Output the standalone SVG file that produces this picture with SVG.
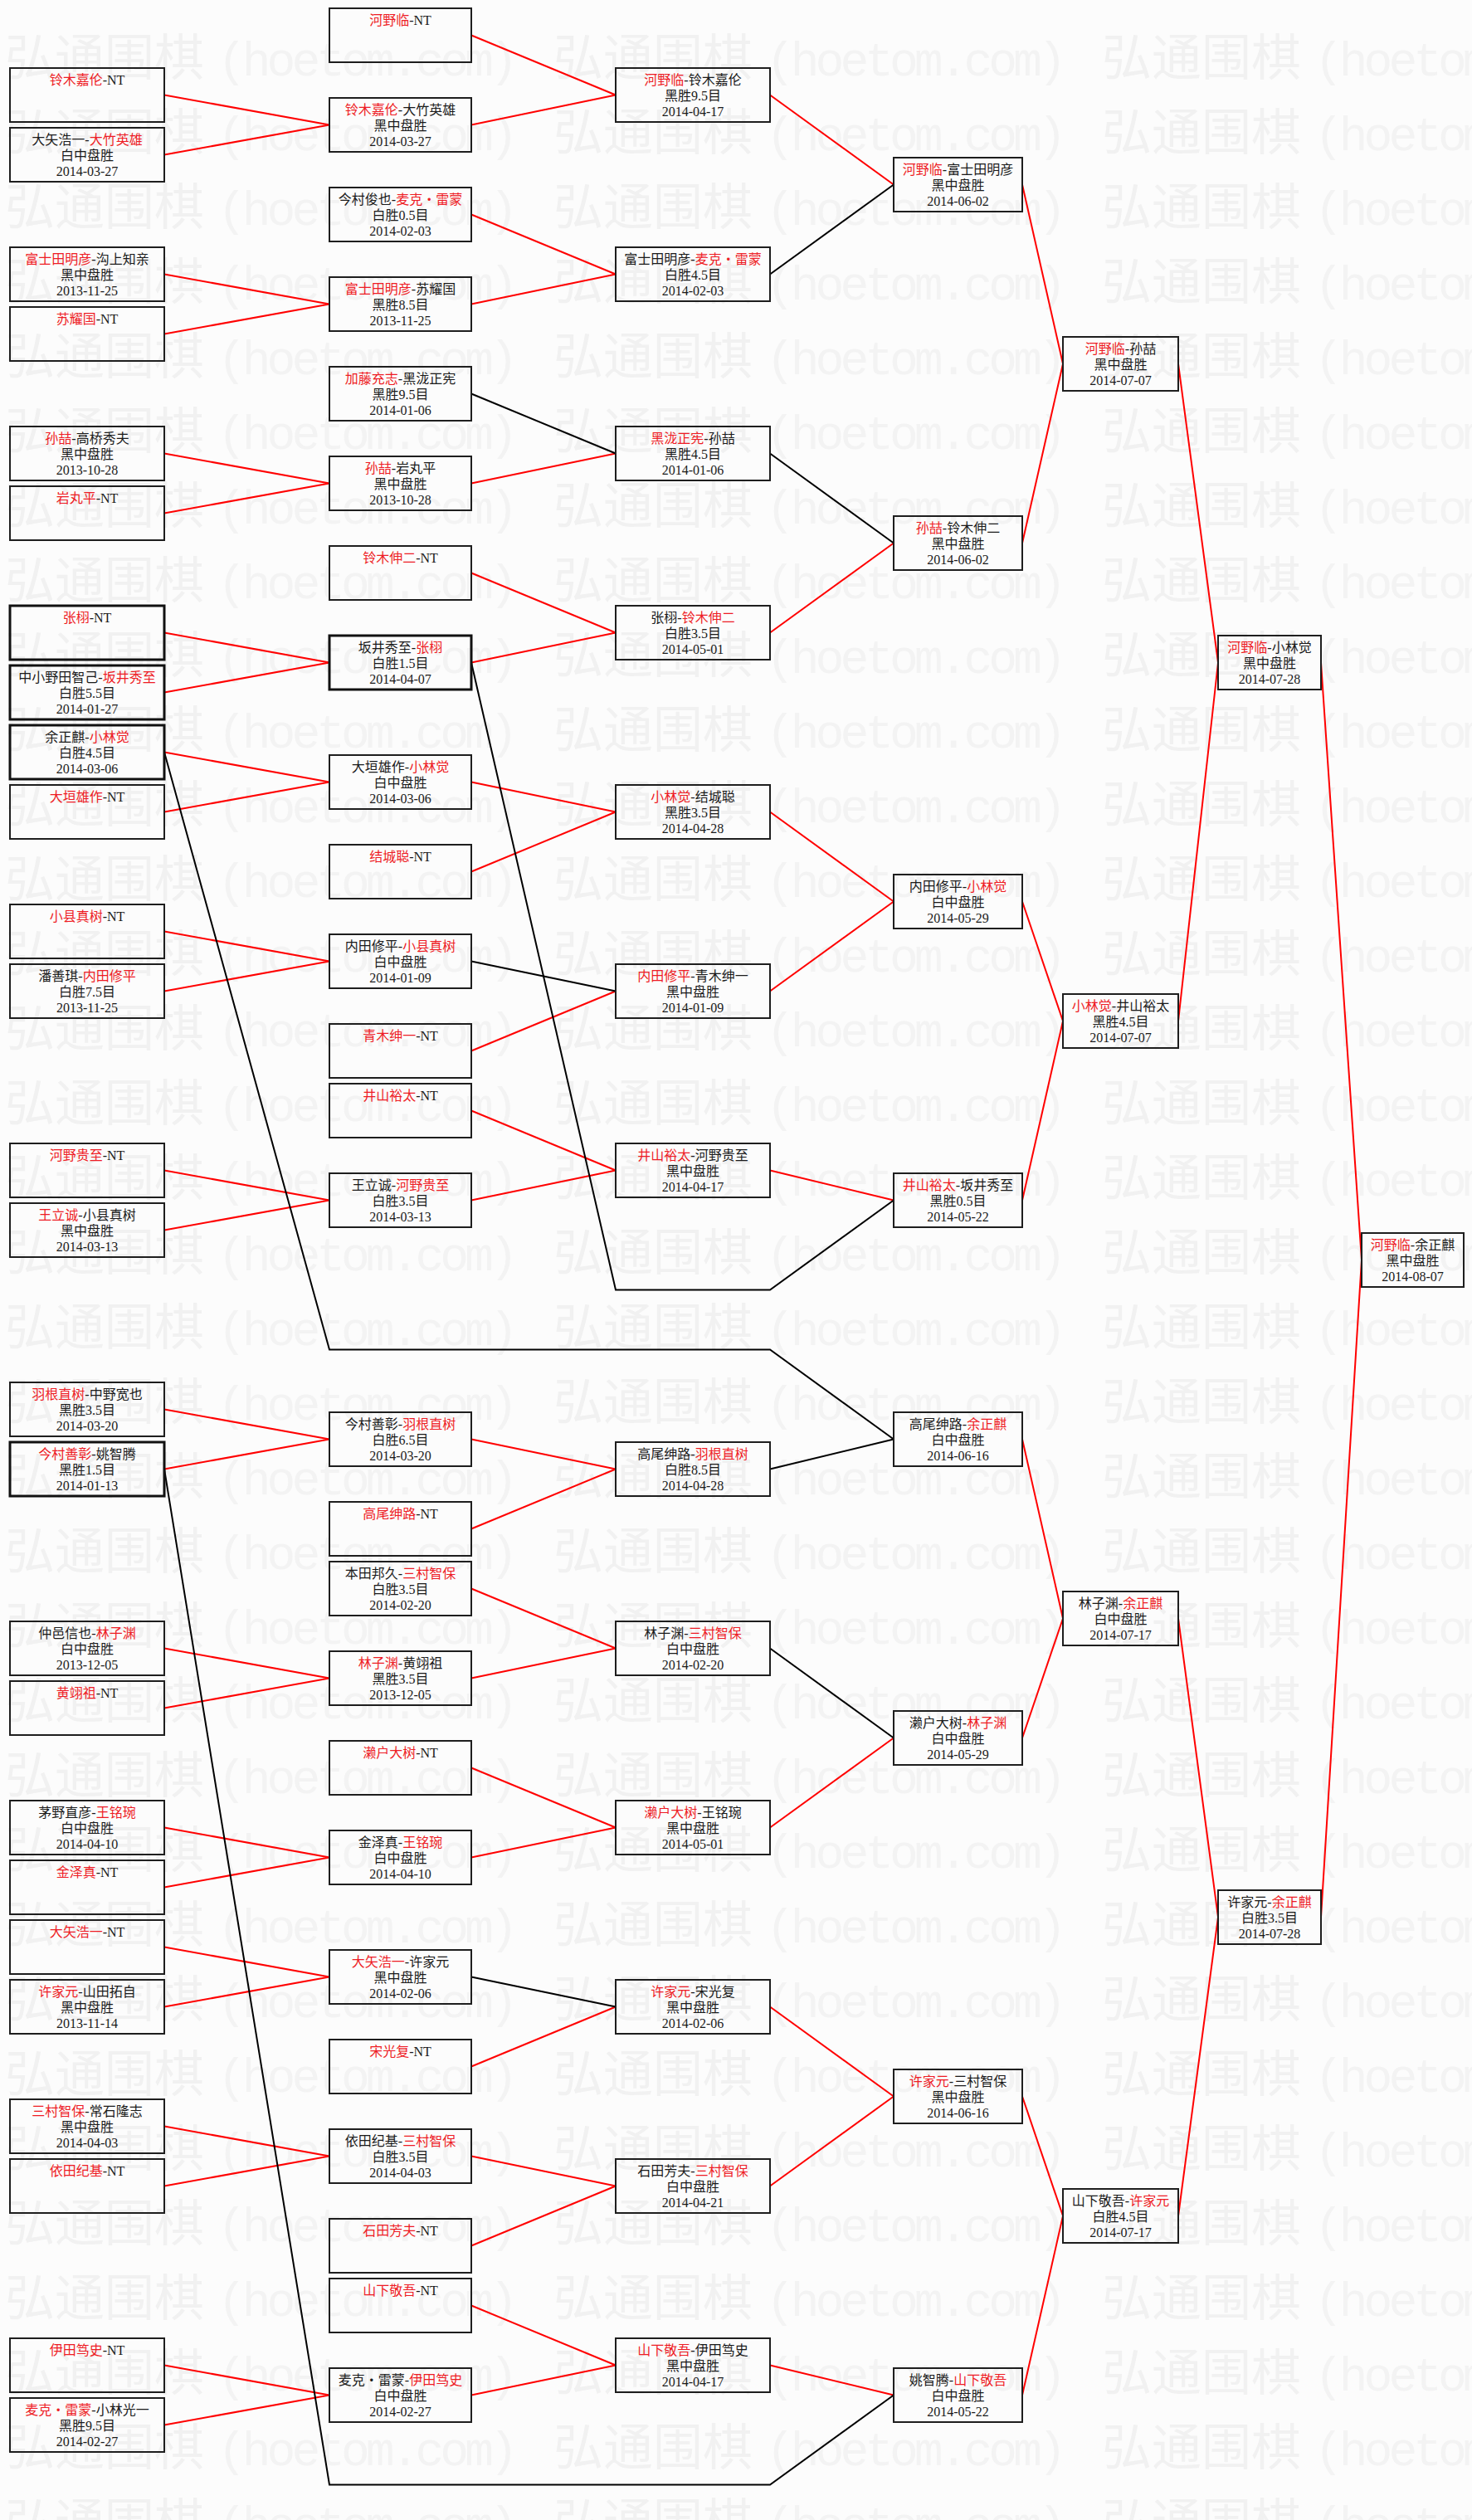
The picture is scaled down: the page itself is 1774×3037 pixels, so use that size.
<svg xmlns="http://www.w3.org/2000/svg" width="1774" height="3037" viewBox="0 0 1774 3037">
<style>
.bg{fill:#fcfcfc}
.b{fill:none;stroke:#1e1e1e;stroke-width:2}
.bt{fill:none;stroke:#111;stroke-width:3}
.t{font-family:"Liberation Serif","Noto Sans CJK SC",serif;font-size:16px;fill:#1a1a1a;text-anchor:middle}
.r{fill:#ee1c25}
.cr{fill:none;stroke:#ff0000;stroke-width:2}
.cb{fill:none;stroke:#000;stroke-width:2}
.wm{font-family:"Noto Sans CJK SC",sans-serif;font-size:60px;fill:#f1f1f1}
.wl{font-family:"Liberation Mono",monospace;font-size:58px;letter-spacing:-5px;fill:#f3f3f3}
</style>
<defs>
<pattern id="wmp" patternUnits="userSpaceOnUse" x="6" y="23" width="661" height="90">
<text class="wm" x="0" y="68">弘通围棋<tspan class="wl" dx="16">(hoetom.com)</tspan></text>
</pattern>
</defs>
<rect class="bg" width="1774" height="3037"/>
<rect x="0" y="23" width="1774" height="3014" fill="url(#wmp)"/>

<g id="connectors">
<path class="cr" d="M198,114.5L397,150.5M198,186.5L397,150.5M198,330.5L397,366.5M198,402.5L397,366.5M198,546.5L397,582.5M198,618.5L397,582.5M198,762.5L397,798.5M198,834.5L397,798.5M198,906.5L397,942.5M198,978.5L397,942.5M198,1122.5L397,1158.5M198,1194.5L397,1158.5M198,1410.5L397,1446.5M198,1482.5L397,1446.5M198,1698.5L397,1734.5M198,1770.5L397,1734.5M198,1986.5L397,2022.5M198,2058.5L397,2022.5M198,2202.5L397,2238.5M198,2274.5L397,2238.5M198,2346.5L397,2382.5M198,2418.5L397,2382.5M198,2562.5L397,2598.5M198,2634.5L397,2598.5M198,2850.5L397,2886.5M198,2922.5L397,2886.5"/>
<path class="cr" d="M568,42.5L742,114.5M568,150.5L742,114.5M568,258.5L742,330.5M568,366.5L742,330.5M568,582.5L742,546.5M568,690.5L742,762.5M568,798.5L742,762.5M568,942.5L742,978.5M568,1050.5L742,978.5M568,1266.5L742,1194.5M568,1338.5L742,1410.5M568,1446.5L742,1410.5M568,1734.5L742,1770.5M568,1842.5L742,1770.5M568,1914.5L742,1986.5M568,2022.5L742,1986.5M568,2130.5L742,2202.5M568,2238.5L742,2202.5M568,2490.5L742,2418.5M568,2598.5L742,2634.5M568,2706.5L742,2634.5M568,2778.5L742,2850.5M568,2886.5L742,2850.5"/>
<path class="cb" d="M568,474.5L742,546.5M568,1158.5L742,1194.5M568,2382.5L742,2418.5"/>
<path class="cr" d="M928,114.5L1077,222.5M928,762.5L1077,654.5M928,978.5L1077,1086.5M928,1194.5L1077,1086.5M928,1410.5L1077,1446.5M928,2202.5L1077,2094.5M928,2418.5L1077,2526.5M928,2634.5L1077,2526.5M928,2850.5L1077,2886.5"/>
<path class="cb" d="M928,330.5L1077,222.5M928,546.5L1077,654.5M928,1770.5L1077,1734.5M928,1986.5L1077,2094.5"/>
<path class="cb" d="M568,798.5L742,1554.5L928,1554.5L1077,1446.5"/>
<path class="cb" d="M198,906.5L397,1626.5L928,1626.5L1077,1734.5"/>
<path class="cb" d="M198,1770.5L397,2994.5L928,2994.5L1077,2886.5"/>
<path class="cr" d="M1232,222.5L1281,438.5M1232,654.5L1281,438.5M1232,1086.5L1281,1230.5M1232,1446.5L1281,1230.5M1232,1734.5L1281,1950.5M1232,2094.5L1281,1950.5M1232,2526.5L1281,2670.5M1232,2886.5L1281,2670.5"/>
<path class="cr" d="M1420,438.5L1468,798.5M1420,1230.5L1468,798.5M1420,1950.5L1468,2310.5M1420,2670.5L1468,2310.5"/>
<path class="cr" d="M1592,798.5L1641,1518.5M1592,2310.5L1641,1518.5"/>
</g>

<g id="c0-01"><rect class="b" x="12" y="82" width="186" height="65"/><text class="t" x="105" y="102"><tspan class="r">铃木嘉伦</tspan>-NT</text></g>
<g id="c0-02"><rect class="b" x="12" y="154" width="186" height="65"/><text class="t" x="105" y="174">大矢浩一-<tspan class="r">大竹英雄</tspan></text><text class="t" x="105" y="193">白中盘胜</text><text class="t" x="105" y="212">2014-03-27</text></g>
<g id="c0-03"><rect class="b" x="12" y="298" width="186" height="65"/><text class="t" x="105" y="318"><tspan class="r">富士田明彦</tspan>-沟上知亲</text><text class="t" x="105" y="337">黑中盘胜</text><text class="t" x="105" y="356">2013-11-25</text></g>
<g id="c0-04"><rect class="b" x="12" y="370" width="186" height="65"/><text class="t" x="105" y="390"><tspan class="r">苏耀国</tspan>-NT</text></g>
<g id="c0-05"><rect class="b" x="12" y="514" width="186" height="65"/><text class="t" x="105" y="534"><tspan class="r">孙喆</tspan>-高桥秀夫</text><text class="t" x="105" y="553">黑中盘胜</text><text class="t" x="105" y="572">2013-10-28</text></g>
<g id="c0-06"><rect class="b" x="12" y="586" width="186" height="65"/><text class="t" x="105" y="606"><tspan class="r">岩丸平</tspan>-NT</text></g>
<g id="c0-07"><rect class="bt" x="12" y="730" width="186" height="65"/><text class="t" x="105" y="750"><tspan class="r">张栩</tspan>-NT</text></g>
<g id="c0-08"><rect class="bt" x="12" y="802" width="186" height="65"/><text class="t" x="105" y="822">中小野田智己-<tspan class="r">坂井秀至</tspan></text><text class="t" x="105" y="841">白胜5.5目</text><text class="t" x="105" y="860">2014-01-27</text></g>
<g id="c0-09"><rect class="bt" x="12" y="874" width="186" height="65"/><text class="t" x="105" y="894">余正麒-<tspan class="r">小林觉</tspan></text><text class="t" x="105" y="913">白胜4.5目</text><text class="t" x="105" y="932">2014-03-06</text></g>
<g id="c0-10"><rect class="b" x="12" y="946" width="186" height="65"/><text class="t" x="105" y="966"><tspan class="r">大垣雄作</tspan>-NT</text></g>
<g id="c0-11"><rect class="b" x="12" y="1090" width="186" height="65"/><text class="t" x="105" y="1110"><tspan class="r">小县真树</tspan>-NT</text></g>
<g id="c0-12"><rect class="b" x="12" y="1162" width="186" height="65"/><text class="t" x="105" y="1182">潘善琪-<tspan class="r">内田修平</tspan></text><text class="t" x="105" y="1201">白胜7.5目</text><text class="t" x="105" y="1220">2013-11-25</text></g>
<g id="c0-13"><rect class="b" x="12" y="1378" width="186" height="65"/><text class="t" x="105" y="1398"><tspan class="r">河野贵至</tspan>-NT</text></g>
<g id="c0-14"><rect class="b" x="12" y="1450" width="186" height="65"/><text class="t" x="105" y="1470"><tspan class="r">王立诚</tspan>-小县真树</text><text class="t" x="105" y="1489">黑中盘胜</text><text class="t" x="105" y="1508">2014-03-13</text></g>
<g id="c0-15"><rect class="b" x="12" y="1666" width="186" height="65"/><text class="t" x="105" y="1686"><tspan class="r">羽根直树</tspan>-中野宽也</text><text class="t" x="105" y="1705">黑胜3.5目</text><text class="t" x="105" y="1724">2014-03-20</text></g>
<g id="c0-16"><rect class="bt" x="12" y="1738" width="186" height="65"/><text class="t" x="105" y="1758"><tspan class="r">今村善彰</tspan>-姚智腾</text><text class="t" x="105" y="1777">黑胜1.5目</text><text class="t" x="105" y="1796">2014-01-13</text></g>
<g id="c0-17"><rect class="b" x="12" y="1954" width="186" height="65"/><text class="t" x="105" y="1974">仲邑信也-<tspan class="r">林子渊</tspan></text><text class="t" x="105" y="1993">白中盘胜</text><text class="t" x="105" y="2012">2013-12-05</text></g>
<g id="c0-18"><rect class="b" x="12" y="2026" width="186" height="65"/><text class="t" x="105" y="2046"><tspan class="r">黄翊祖</tspan>-NT</text></g>
<g id="c0-19"><rect class="b" x="12" y="2170" width="186" height="65"/><text class="t" x="105" y="2190">茅野直彦-<tspan class="r">王铭琬</tspan></text><text class="t" x="105" y="2209">白中盘胜</text><text class="t" x="105" y="2228">2014-04-10</text></g>
<g id="c0-20"><rect class="b" x="12" y="2242" width="186" height="65"/><text class="t" x="105" y="2262"><tspan class="r">金泽真</tspan>-NT</text></g>
<g id="c0-21"><rect class="b" x="12" y="2314" width="186" height="65"/><text class="t" x="105" y="2334"><tspan class="r">大矢浩一</tspan>-NT</text></g>
<g id="c0-22"><rect class="b" x="12" y="2386" width="186" height="65"/><text class="t" x="105" y="2406"><tspan class="r">许家元</tspan>-山田拓自</text><text class="t" x="105" y="2425">黑中盘胜</text><text class="t" x="105" y="2444">2013-11-14</text></g>
<g id="c0-23"><rect class="b" x="12" y="2530" width="186" height="65"/><text class="t" x="105" y="2550"><tspan class="r">三村智保</tspan>-常石隆志</text><text class="t" x="105" y="2569">黑中盘胜</text><text class="t" x="105" y="2588">2014-04-03</text></g>
<g id="c0-24"><rect class="b" x="12" y="2602" width="186" height="65"/><text class="t" x="105" y="2622"><tspan class="r">依田纪基</tspan>-NT</text></g>
<g id="c0-25"><rect class="b" x="12" y="2818" width="186" height="65"/><text class="t" x="105" y="2838"><tspan class="r">伊田笃史</tspan>-NT</text></g>
<g id="c0-26"><rect class="b" x="12" y="2890" width="186" height="65"/><text class="t" x="105" y="2910"><tspan class="r">麦克・雷蒙</tspan>-小林光一</text><text class="t" x="105" y="2929">黑胜9.5目</text><text class="t" x="105" y="2948">2014-02-27</text></g>

<g id="c1-01"><rect class="b" x="397" y="10" width="171" height="65"/><text class="t" x="482.5" y="30"><tspan class="r">河野临</tspan>-NT</text></g>
<g id="c1-02"><rect class="b" x="397" y="118" width="171" height="65"/><text class="t" x="482.5" y="138"><tspan class="r">铃木嘉伦</tspan>-大竹英雄</text><text class="t" x="482.5" y="157">黑中盘胜</text><text class="t" x="482.5" y="176">2014-03-27</text></g>
<g id="c1-03"><rect class="b" x="397" y="226" width="171" height="65"/><text class="t" x="482.5" y="246">今村俊也-<tspan class="r">麦克・雷蒙</tspan></text><text class="t" x="482.5" y="265">白胜0.5目</text><text class="t" x="482.5" y="284">2014-02-03</text></g>
<g id="c1-04"><rect class="b" x="397" y="334" width="171" height="65"/><text class="t" x="482.5" y="354"><tspan class="r">富士田明彦</tspan>-苏耀国</text><text class="t" x="482.5" y="373">黑胜8.5目</text><text class="t" x="482.5" y="392">2013-11-25</text></g>
<g id="c1-05"><rect class="b" x="397" y="442" width="171" height="65"/><text class="t" x="482.5" y="462"><tspan class="r">加藤充志</tspan>-黑泷正宪</text><text class="t" x="482.5" y="481">黑胜9.5目</text><text class="t" x="482.5" y="500">2014-01-06</text></g>
<g id="c1-06"><rect class="b" x="397" y="550" width="171" height="65"/><text class="t" x="482.5" y="570"><tspan class="r">孙喆</tspan>-岩丸平</text><text class="t" x="482.5" y="589">黑中盘胜</text><text class="t" x="482.5" y="608">2013-10-28</text></g>
<g id="c1-07"><rect class="b" x="397" y="658" width="171" height="65"/><text class="t" x="482.5" y="678"><tspan class="r">铃木伸二</tspan>-NT</text></g>
<g id="c1-08"><rect class="bt" x="397" y="766" width="171" height="65"/><text class="t" x="482.5" y="786">坂井秀至-<tspan class="r">张栩</tspan></text><text class="t" x="482.5" y="805">白胜1.5目</text><text class="t" x="482.5" y="824">2014-04-07</text></g>
<g id="c1-09"><rect class="b" x="397" y="910" width="171" height="65"/><text class="t" x="482.5" y="930">大垣雄作-<tspan class="r">小林觉</tspan></text><text class="t" x="482.5" y="949">白中盘胜</text><text class="t" x="482.5" y="968">2014-03-06</text></g>
<g id="c1-10"><rect class="b" x="397" y="1018" width="171" height="65"/><text class="t" x="482.5" y="1038"><tspan class="r">结城聪</tspan>-NT</text></g>
<g id="c1-11"><rect class="b" x="397" y="1126" width="171" height="65"/><text class="t" x="482.5" y="1146">内田修平-<tspan class="r">小县真树</tspan></text><text class="t" x="482.5" y="1165">白中盘胜</text><text class="t" x="482.5" y="1184">2014-01-09</text></g>
<g id="c1-12"><rect class="b" x="397" y="1234" width="171" height="65"/><text class="t" x="482.5" y="1254"><tspan class="r">青木绅一</tspan>-NT</text></g>
<g id="c1-13"><rect class="b" x="397" y="1306" width="171" height="65"/><text class="t" x="482.5" y="1326"><tspan class="r">井山裕太</tspan>-NT</text></g>
<g id="c1-14"><rect class="b" x="397" y="1414" width="171" height="65"/><text class="t" x="482.5" y="1434">王立诚-<tspan class="r">河野贵至</tspan></text><text class="t" x="482.5" y="1453">白胜3.5目</text><text class="t" x="482.5" y="1472">2014-03-13</text></g>
<g id="c1-15"><rect class="b" x="397" y="1702" width="171" height="65"/><text class="t" x="482.5" y="1722">今村善彰-<tspan class="r">羽根直树</tspan></text><text class="t" x="482.5" y="1741">白胜6.5目</text><text class="t" x="482.5" y="1760">2014-03-20</text></g>
<g id="c1-16"><rect class="b" x="397" y="1810" width="171" height="65"/><text class="t" x="482.5" y="1830"><tspan class="r">高尾绅路</tspan>-NT</text></g>
<g id="c1-17"><rect class="b" x="397" y="1882" width="171" height="65"/><text class="t" x="482.5" y="1902">本田邦久-<tspan class="r">三村智保</tspan></text><text class="t" x="482.5" y="1921">白胜3.5目</text><text class="t" x="482.5" y="1940">2014-02-20</text></g>
<g id="c1-18"><rect class="b" x="397" y="1990" width="171" height="65"/><text class="t" x="482.5" y="2010"><tspan class="r">林子渊</tspan>-黄翊祖</text><text class="t" x="482.5" y="2029">黑胜3.5目</text><text class="t" x="482.5" y="2048">2013-12-05</text></g>
<g id="c1-19"><rect class="b" x="397" y="2098" width="171" height="65"/><text class="t" x="482.5" y="2118"><tspan class="r">濑户大树</tspan>-NT</text></g>
<g id="c1-20"><rect class="b" x="397" y="2206" width="171" height="65"/><text class="t" x="482.5" y="2226">金泽真-<tspan class="r">王铭琬</tspan></text><text class="t" x="482.5" y="2245">白中盘胜</text><text class="t" x="482.5" y="2264">2014-04-10</text></g>
<g id="c1-21"><rect class="b" x="397" y="2350" width="171" height="65"/><text class="t" x="482.5" y="2370"><tspan class="r">大矢浩一</tspan>-许家元</text><text class="t" x="482.5" y="2389">黑中盘胜</text><text class="t" x="482.5" y="2408">2014-02-06</text></g>
<g id="c1-22"><rect class="b" x="397" y="2458" width="171" height="65"/><text class="t" x="482.5" y="2478"><tspan class="r">宋光复</tspan>-NT</text></g>
<g id="c1-23"><rect class="b" x="397" y="2566" width="171" height="65"/><text class="t" x="482.5" y="2586">依田纪基-<tspan class="r">三村智保</tspan></text><text class="t" x="482.5" y="2605">白胜3.5目</text><text class="t" x="482.5" y="2624">2014-04-03</text></g>
<g id="c1-24"><rect class="b" x="397" y="2674" width="171" height="65"/><text class="t" x="482.5" y="2694"><tspan class="r">石田芳夫</tspan>-NT</text></g>
<g id="c1-25"><rect class="b" x="397" y="2746" width="171" height="65"/><text class="t" x="482.5" y="2766"><tspan class="r">山下敬吾</tspan>-NT</text></g>
<g id="c1-26"><rect class="b" x="397" y="2854" width="171" height="65"/><text class="t" x="482.5" y="2874">麦克・雷蒙-<tspan class="r">伊田笃史</tspan></text><text class="t" x="482.5" y="2893">白中盘胜</text><text class="t" x="482.5" y="2912">2014-02-27</text></g>

<g id="c2-01"><rect class="b" x="742" y="82" width="186" height="65"/><text class="t" x="835" y="102"><tspan class="r">河野临</tspan>-铃木嘉伦</text><text class="t" x="835" y="121">黑胜9.5目</text><text class="t" x="835" y="140">2014-04-17</text></g>
<g id="c2-02"><rect class="b" x="742" y="298" width="186" height="65"/><text class="t" x="835" y="318">富士田明彦-<tspan class="r">麦克・雷蒙</tspan></text><text class="t" x="835" y="337">白胜4.5目</text><text class="t" x="835" y="356">2014-02-03</text></g>
<g id="c2-03"><rect class="b" x="742" y="514" width="186" height="65"/><text class="t" x="835" y="534"><tspan class="r">黑泷正宪</tspan>-孙喆</text><text class="t" x="835" y="553">黑胜4.5目</text><text class="t" x="835" y="572">2014-01-06</text></g>
<g id="c2-04"><rect class="b" x="742" y="730" width="186" height="65"/><text class="t" x="835" y="750">张栩-<tspan class="r">铃木伸二</tspan></text><text class="t" x="835" y="769">白胜3.5目</text><text class="t" x="835" y="788">2014-05-01</text></g>
<g id="c2-05"><rect class="b" x="742" y="946" width="186" height="65"/><text class="t" x="835" y="966"><tspan class="r">小林觉</tspan>-结城聪</text><text class="t" x="835" y="985">黑胜3.5目</text><text class="t" x="835" y="1004">2014-04-28</text></g>
<g id="c2-06"><rect class="b" x="742" y="1162" width="186" height="65"/><text class="t" x="835" y="1182"><tspan class="r">内田修平</tspan>-青木绅一</text><text class="t" x="835" y="1201">黑中盘胜</text><text class="t" x="835" y="1220">2014-01-09</text></g>
<g id="c2-07"><rect class="b" x="742" y="1378" width="186" height="65"/><text class="t" x="835" y="1398"><tspan class="r">井山裕太</tspan>-河野贵至</text><text class="t" x="835" y="1417">黑中盘胜</text><text class="t" x="835" y="1436">2014-04-17</text></g>
<g id="c2-08"><rect class="b" x="742" y="1738" width="186" height="65"/><text class="t" x="835" y="1758">高尾绅路-<tspan class="r">羽根直树</tspan></text><text class="t" x="835" y="1777">白胜8.5目</text><text class="t" x="835" y="1796">2014-04-28</text></g>
<g id="c2-09"><rect class="b" x="742" y="1954" width="186" height="65"/><text class="t" x="835" y="1974">林子渊-<tspan class="r">三村智保</tspan></text><text class="t" x="835" y="1993">白中盘胜</text><text class="t" x="835" y="2012">2014-02-20</text></g>
<g id="c2-10"><rect class="b" x="742" y="2170" width="186" height="65"/><text class="t" x="835" y="2190"><tspan class="r">濑户大树</tspan>-王铭琬</text><text class="t" x="835" y="2209">黑中盘胜</text><text class="t" x="835" y="2228">2014-05-01</text></g>
<g id="c2-11"><rect class="b" x="742" y="2386" width="186" height="65"/><text class="t" x="835" y="2406"><tspan class="r">许家元</tspan>-宋光复</text><text class="t" x="835" y="2425">黑中盘胜</text><text class="t" x="835" y="2444">2014-02-06</text></g>
<g id="c2-12"><rect class="b" x="742" y="2602" width="186" height="65"/><text class="t" x="835" y="2622">石田芳夫-<tspan class="r">三村智保</tspan></text><text class="t" x="835" y="2641">白中盘胜</text><text class="t" x="835" y="2660">2014-04-21</text></g>
<g id="c2-13"><rect class="b" x="742" y="2818" width="186" height="65"/><text class="t" x="835" y="2838"><tspan class="r">山下敬吾</tspan>-伊田笃史</text><text class="t" x="835" y="2857">黑中盘胜</text><text class="t" x="835" y="2876">2014-04-17</text></g>

<g id="c3-01"><rect class="b" x="1077" y="190" width="155" height="65"/><text class="t" x="1154.5" y="210"><tspan class="r">河野临</tspan>-富士田明彦</text><text class="t" x="1154.5" y="229">黑中盘胜</text><text class="t" x="1154.5" y="248">2014-06-02</text></g>
<g id="c3-02"><rect class="b" x="1077" y="622" width="155" height="65"/><text class="t" x="1154.5" y="642"><tspan class="r">孙喆</tspan>-铃木伸二</text><text class="t" x="1154.5" y="661">黑中盘胜</text><text class="t" x="1154.5" y="680">2014-06-02</text></g>
<g id="c3-03"><rect class="b" x="1077" y="1054" width="155" height="65"/><text class="t" x="1154.5" y="1074">内田修平-<tspan class="r">小林觉</tspan></text><text class="t" x="1154.5" y="1093">白中盘胜</text><text class="t" x="1154.5" y="1112">2014-05-29</text></g>
<g id="c3-04"><rect class="b" x="1077" y="1414" width="155" height="65"/><text class="t" x="1154.5" y="1434"><tspan class="r">井山裕太</tspan>-坂井秀至</text><text class="t" x="1154.5" y="1453">黑胜0.5目</text><text class="t" x="1154.5" y="1472">2014-05-22</text></g>
<g id="c3-05"><rect class="b" x="1077" y="1702" width="155" height="65"/><text class="t" x="1154.5" y="1722">高尾绅路-<tspan class="r">余正麒</tspan></text><text class="t" x="1154.5" y="1741">白中盘胜</text><text class="t" x="1154.5" y="1760">2014-06-16</text></g>
<g id="c3-06"><rect class="b" x="1077" y="2062" width="155" height="65"/><text class="t" x="1154.5" y="2082">濑户大树-<tspan class="r">林子渊</tspan></text><text class="t" x="1154.5" y="2101">白中盘胜</text><text class="t" x="1154.5" y="2120">2014-05-29</text></g>
<g id="c3-07"><rect class="b" x="1077" y="2494" width="155" height="65"/><text class="t" x="1154.5" y="2514"><tspan class="r">许家元</tspan>-三村智保</text><text class="t" x="1154.5" y="2533">黑中盘胜</text><text class="t" x="1154.5" y="2552">2014-06-16</text></g>
<g id="c3-08"><rect class="b" x="1077" y="2854" width="155" height="65"/><text class="t" x="1154.5" y="2874">姚智腾-<tspan class="r">山下敬吾</tspan></text><text class="t" x="1154.5" y="2893">白中盘胜</text><text class="t" x="1154.5" y="2912">2014-05-22</text></g>

<g id="c4-01"><rect class="b" x="1281" y="406" width="139" height="65"/><text class="t" x="1350.5" y="426"><tspan class="r">河野临</tspan>-孙喆</text><text class="t" x="1350.5" y="445">黑中盘胜</text><text class="t" x="1350.5" y="464">2014-07-07</text></g>
<g id="c4-02"><rect class="b" x="1281" y="1198" width="139" height="65"/><text class="t" x="1350.5" y="1218"><tspan class="r">小林觉</tspan>-井山裕太</text><text class="t" x="1350.5" y="1237">黑胜4.5目</text><text class="t" x="1350.5" y="1256">2014-07-07</text></g>
<g id="c4-03"><rect class="b" x="1281" y="1918" width="139" height="65"/><text class="t" x="1350.5" y="1938">林子渊-<tspan class="r">余正麒</tspan></text><text class="t" x="1350.5" y="1957">白中盘胜</text><text class="t" x="1350.5" y="1976">2014-07-17</text></g>
<g id="c4-04"><rect class="b" x="1281" y="2638" width="139" height="65"/><text class="t" x="1350.5" y="2658">山下敬吾-<tspan class="r">许家元</tspan></text><text class="t" x="1350.5" y="2677">白胜4.5目</text><text class="t" x="1350.5" y="2696">2014-07-17</text></g>

<g id="c5-01"><rect class="b" x="1468" y="766" width="124" height="65"/><text class="t" x="1530" y="786"><tspan class="r">河野临</tspan>-小林觉</text><text class="t" x="1530" y="805">黑中盘胜</text><text class="t" x="1530" y="824">2014-07-28</text></g>
<g id="c5-02"><rect class="b" x="1468" y="2278" width="124" height="65"/><text class="t" x="1530" y="2298">许家元-<tspan class="r">余正麒</tspan></text><text class="t" x="1530" y="2317">白胜3.5目</text><text class="t" x="1530" y="2336">2014-07-28</text></g>

<g id="c6-01"><rect class="b" x="1641" y="1486" width="123" height="65"/><text class="t" x="1702.5" y="1506"><tspan class="r">河野临</tspan>-余正麒</text><text class="t" x="1702.5" y="1525">黑中盘胜</text><text class="t" x="1702.5" y="1544">2014-08-07</text></g>
</svg>
